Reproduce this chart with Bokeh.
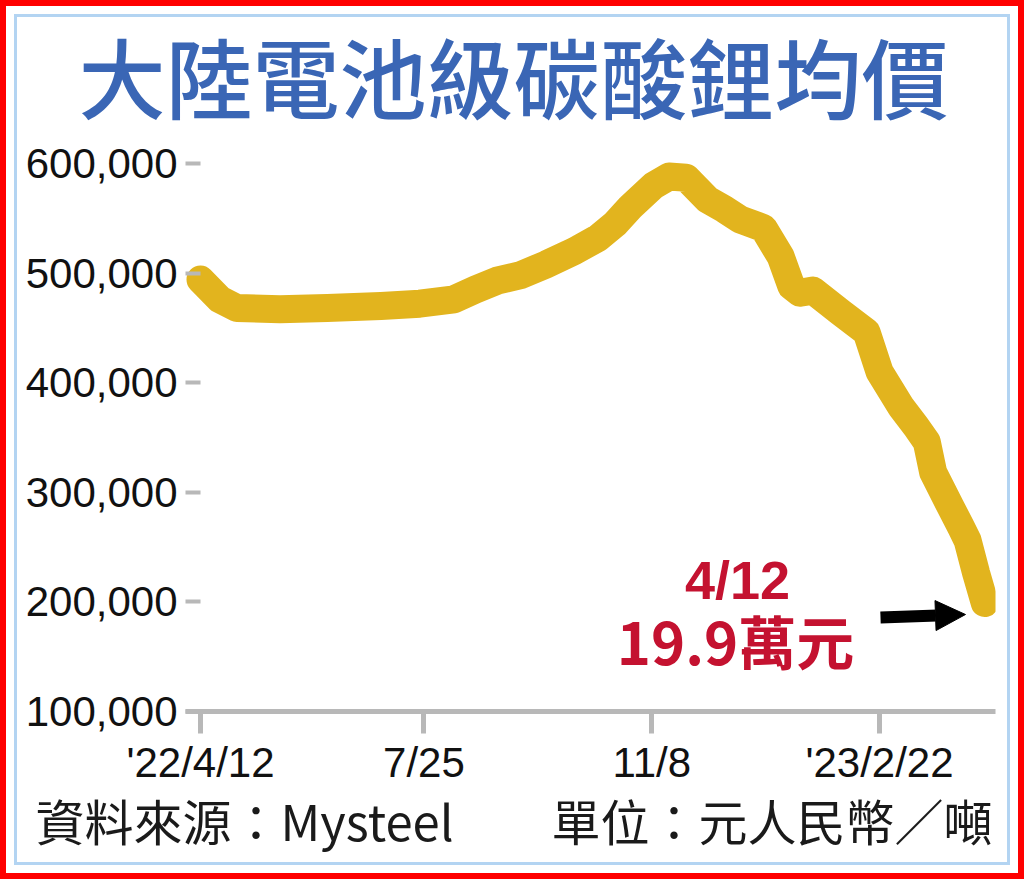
import pandas as pd
from bokeh.plotting import figure
from bokeh.models import (FixedTicker, NumeralTickFormatter, Label, Arrow, NormalHead,
                          Range1d, ColumnDataSource, Title)
from bokeh.embed import file_html
from bokeh.resources import INLINE

# ---- data ----
dates = ["2022-04-12", "2022-04-21", "2022-04-29", "2022-05-19", "2022-06-10", "2022-07-05",
         "2022-07-23", "2022-08-08", "2022-08-18", "2022-08-28", "2022-09-08", "2022-09-20",
         "2022-10-03", "2022-10-14", "2022-10-22", "2022-10-29", "2022-11-09", "2022-11-16",
         "2022-11-24", "2022-12-04", "2022-12-12", "2022-12-19", "2022-12-30", "2023-01-07",
         "2023-01-12", "2023-01-16", "2023-01-22", "2023-02-04", "2023-02-16", "2023-02-22",
         "2023-03-04", "2023-03-11", "2023-03-16", "2023-03-19", "2023-03-27", "2023-04-01",
         "2023-04-04", "2023-04-08", "2023-04-12"]
prices = [494000, 476000, 468000, 467000, 468000, 470000,
          472000, 476000, 485000, 493000, 498000, 508000,
          520000, 532000, 545000, 560000, 580000, 588000,
          587000, 567000, 558000, 549000, 541000, 515000,
          488000, 482000, 484000, 464000, 446000, 410000,
          378000, 360000, 346000, 318000, 287000, 268000,
          256000, 226000, 199000]
tick_dates = ["2022-04-12", "2022-07-25", "2022-11-08", "2023-02-22"]
tick_labels = ["'22/4/12", "7/25", "11/8", "'23/2/22"]
y_ticks = [100000, 200000, 300000, 400000, 500000, 600000]

title_text = "大陸電池級碳酸鋰均價"
source_text = "資料來源：Mysteel"
unit_text = "單位：元人民幣／噸"
note_date = "4/12"
note_value = "19.9萬元"


def ms(d):
    return pd.Timestamp(d).value / 1e6


# page-pixel helpers for placing annotations
T0 = ms(tick_dates[0])
T3 = ms(tick_dates[3])
MSPX = (T3 - T0) / (879 - 200)


def X(px):
    return T0 + (px - 200) * MSPX


def Y(py):
    return 100000 + (711 - py) * 520000 / 570


src = ColumnDataSource(dict(date=[ms(d) for d in dates], price=prices))

p = figure(width=1024, height=879, output_backend="svg", toolbar_location=None,
           x_axis_type="datetime",
           x_range=Range1d(X(185), X(995)), y_range=Range1d(100000, 620000),
           min_border_left=185, min_border_right=29, min_border_top=141,
           min_border_bottom=168)
p.outline_line_color = None
p.grid.visible = False
p.background_fill_color = "white"
p.border_fill_color = None
p.styles = {
    "outline": "6px solid #ff0000",
    "outline-offset": "-6px",
    "box-shadow": "inset 0 0 0 14px #ffffff, inset 0 0 0 17px #b3d4f2",
    "background-color": "#ffffff",
}

LABEL_FONT = "Liberation Sans"

# title
p.title.text = title_text
p.title.align = "left"
p.title.offset = -107
p.title.text_font = "Noto Sans CJK TC Medium"
p.title.text_font_size = "87px"
p.title.text_font_style = "normal"
p.title.text_color = "#3A66B5"
p.title.standoff = 8

# x axis
xa = p.xaxis[0]
xa.ticker = FixedTicker(ticks=[ms(d) for d in tick_dates])
xa.major_label_overrides = {ms(d): l for d, l in zip(tick_dates, tick_labels)}
xa.axis_line_color = "#b8b8b8"
xa.axis_line_width = 5
xa.major_tick_line_color = "#b8b8b8"
xa.major_tick_line_width = 5
xa.major_tick_out = 22
xa.major_tick_in = 0
xa.minor_tick_line_color = None
xa.major_label_standoff = 5
xa.major_label_text_font = LABEL_FONT
xa.major_label_text_font_size = "42px"
xa.major_label_text_color = "#111111"

# y axis
ya = p.yaxis[0]
ya.ticker = FixedTicker(ticks=y_ticks)
ya.formatter = NumeralTickFormatter(format="0,0")
ya.axis_line_color = None
ya.major_tick_line_color = "#b8b8b8"
ya.major_tick_line_width = 4
ya.major_tick_in = 15
ya.major_tick_out = 0
ya.minor_tick_line_color = None
ya.major_label_standoff = 8
ya.major_label_text_font = LABEL_FONT
ya.major_label_text_font_size = "42px"
ya.major_label_text_color = "#111111"

# price line
p.line(x="date", y="price", source=src, line_width=28, line_color="#E2B41E",
       line_cap="round", line_join="round")

# annotation
p.add_layout(Label(x=X(737), y=Y(579), text=note_date, text_align="center",
                   text_baseline="middle", text_font="Liberation Sans",
                   text_font_size="54px", text_font_style="bold", text_color="#C41230"))
p.add_layout(Label(x=X(735), y=Y(639), text=note_value, text_align="center",
                   text_baseline="middle", text_font="Noto Sans CJK TC",
                   text_font_size="58px", text_font_style="bold", text_color="#C41230"))
p.add_layout(Arrow(x_start=X(880), y_start=Y(617), x_end=X(965), y_end=Y(614),
                   line_color="black", line_width=12,
                   end=NormalHead(size=30, fill_color="black", line_color="black")))

# footer (one line: source on the left, unit on the right)
footer = Title(text=source_text + "\u3000\u3000" + unit_text, align="left", offset=-150,
               text_font="Noto Sans CJK TC", text_font_size="49px",
               text_font_style="normal", text_color="#1a1a1a", standoff=-14)
p.add_layout(footer, "below")

open("out.html", "w").write(file_html(p, INLINE))
